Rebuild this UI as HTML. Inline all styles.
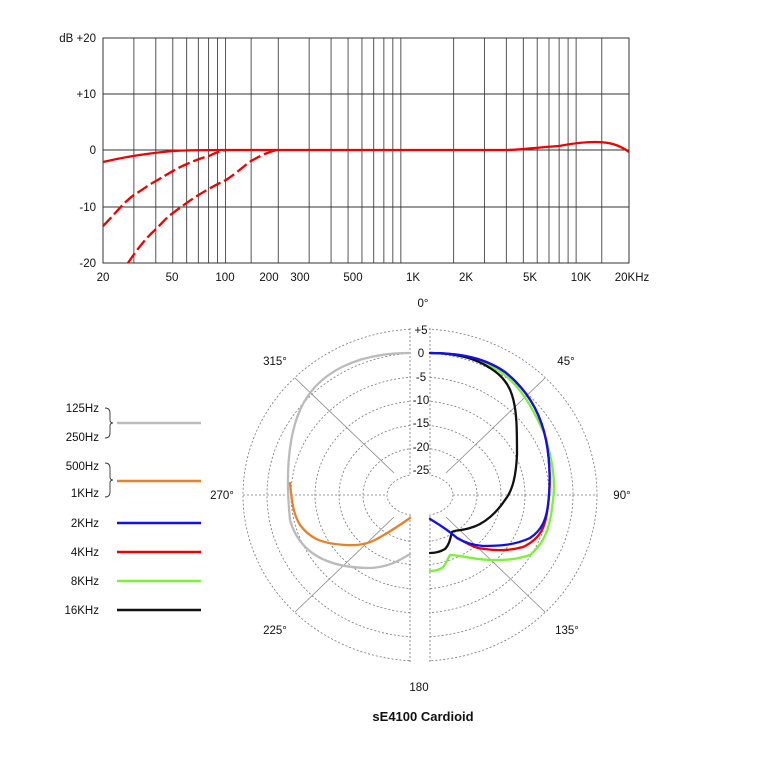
<!DOCTYPE html>
<html><head><meta charset="utf-8"><style>
html,body{margin:0;padding:0;background:#fff;width:760px;height:760px;overflow:hidden}
svg text{font-family:"Liberation Sans",sans-serif;font-size:11.5px;fill:#111}
</style></head><body>
<svg width="760" height="760" viewBox="0 0 760 760" xmlns="http://www.w3.org/2000/svg">
<g id="vgrid" stroke="#555" stroke-width="1"></g>
<g id="top" stroke="#333" stroke-width="1" fill="none">
<rect x="103" y="38" width="526" height="225"/>
<line x1="103" y1="94" x2="629" y2="94"/>
<line x1="103" y1="150" x2="629" y2="150"/>
<line x1="103" y1="207" x2="629" y2="207"/>
</g>
<g>
<text x="96" y="42" text-anchor="end">dB +20</text>
<text x="96" y="98" text-anchor="end">+10</text>
<text x="96" y="154" text-anchor="end">0</text>
<text x="96" y="211" text-anchor="end">-10</text>
<text x="96" y="267" text-anchor="end">-20</text>
<text x="103" y="281" text-anchor="middle">20</text>
<text x="172" y="281" text-anchor="middle">50</text>
<text x="225" y="281" text-anchor="middle">100</text>
<text x="269" y="281" text-anchor="middle">200</text>
<text x="300" y="281" text-anchor="middle">300</text>
<text x="353" y="281" text-anchor="middle">500</text>
<text x="413" y="281" text-anchor="middle">1K</text>
<text x="466" y="281" text-anchor="middle">2K</text>
<text x="530" y="281" text-anchor="middle">5K</text>
<text x="581" y="281" text-anchor="middle">10K</text>
<text x="632" y="281" text-anchor="middle">20KHz</text>
</g>
<g stroke="#e00" stroke-width="2.3" fill="none">
<path d="M103,162 C120,158 140,154 173,151 C190,150 200,150 226,150 L506,150 C520,150 530,148 559,146 C575,143 585,142 595,142 C608,142 618,144 629,152"/>
<path stroke-dasharray="12,4" d="M103,226 C115,214 124,202 134,195 C145,188 150,184 156,181 C168,174 177,168 187,164 C198,159 205,157 209,156 C215,153 220,151 226,150"/>
<path stroke-dasharray="12,4" d="M128,263 C138,248 146,238 156,229 C163,222 167,217 173,213 C190,200 205,190 226,180 C238,172 244,166 251,161 C262,155 270,151 278,150"/>
</g>

<g stroke="#777" stroke-width="0.8" fill="none" stroke-dasharray="2,2">
<ellipse cx="420" cy="495" rx="177" ry="166"/>
<ellipse cx="420" cy="495" rx="153" ry="142"/>
<ellipse cx="420" cy="495" rx="129" ry="118"/>
<ellipse cx="420" cy="495" rx="105" ry="94"/>
<ellipse cx="420" cy="495" rx="81" ry="70"/>
<ellipse cx="420" cy="495" rx="57" ry="47"/>
<ellipse cx="420" cy="495" rx="33" ry="21"/>
<line x1="243" y1="495" x2="387" y2="495"/>
<line x1="453" y1="495" x2="597" y2="495"/>
<line x1="410" y1="328" x2="410" y2="662"/>
<line x1="430" y1="328" x2="430" y2="662"/>
</g>
<g stroke="#888" stroke-width="0.8">
<line x1="295" y1="378" x2="394" y2="473"/>
<line x1="446" y1="517" x2="545" y2="612"/>
<line x1="545" y1="378" x2="446" y2="473"/>
<line x1="394" y1="517" x2="295" y2="612"/>
</g>
<rect x="411" y="320" width="18" height="212" fill="#fff"/>
<ellipse cx="420" cy="495" rx="32" ry="20" fill="#fff"/>
<rect x="411" y="515" width="18" height="150" fill="#fff"/>
<g text-anchor="middle">
<text x="421" y="334">+5</text>
<text x="421" y="357">0</text>
<text x="421" y="381">-5</text>
<text x="421" y="404">-10</text>
<text x="421" y="427">-15</text>
<text x="421" y="451">-20</text>
<text x="421" y="474">-25</text>
<text x="423" y="307">0°</text>
<text x="566" y="365">45°</text>
<text x="622" y="499">90°</text>
<text x="567" y="634">135°</text>
<text x="419" y="691">180</text>
<text x="275" y="634">225°</text>
<text x="222" y="499">270°</text>
<text x="275" y="365">315°</text>
</g>
<g fill="none" stroke-width="2.3" stroke-linecap="round">
<path stroke="#bbb" d="M410,353 C360,353 318,370 300,410 C287,440 286,480 290,520 C300,555 330,568 370,568 C390,567 400,560 410,554"/>
<path stroke="#e8822a" d="M290,483 C292,505 294,515 300,525 C310,538 320,542 335,544 C350,546 363,546 375,540 C390,532 400,525 410,518"/>
<path stroke="#7cf03a" d="M430,353 C460,353 485,360 505,375 C520,388 530,402 545,435 C552,460 556,480 553,500 C551,520 548,540 530,555 C515,560 505,560 490,560 C470,559 460,555 450,555 C447,560 445,567 440,569 C435,571 432,571 430,571"/>
<path stroke="#e00" d="M430,353 C460,353 485,358 505,372 C525,388 540,410 546,440 C551,465 550,490 548,505 C546,525 542,538 523,547 C505,552 490,550 478,548 C468,545 462,540 457,538"/>
<path stroke="#111" d="M430,353 C460,353 478,360 490,368 C500,374 508,382 512,395 C517,410 517,430 517,455 C516,475 513,490 505,500 C497,512 485,524 470,528 C460,531 455,530 452,532 C450,540 449,545 445,549 C440,552 435,553 430,553"/>
<path stroke="#1010ee" d="M430,353 C460,353 485,358 505,372 C525,388 540,410 546,440 C551,465 550,490 548,505 C546,520 542,530 530,538 C515,545 500,546 483,546 C470,545 462,541 457,538 C448,530 440,525 430,519"/>
</g>
<g text-anchor="end">
<text x="99" y="412">125Hz</text>
<text x="99" y="441">250Hz</text>
<text x="99" y="470">500Hz</text>
<text x="99" y="497">1KHz</text>
<text x="99" y="527">2KHz</text>
<text x="99" y="556">4KHz</text>
<text x="99" y="585">8KHz</text>
<text x="99" y="614">16KHz</text>
</g>
<g fill="none" stroke="#333" stroke-width="0.9">
<path d="M105,408 Q110,408 110,413 L110,420 Q110,423 113,423 Q110,423 110,426 L110,433 Q110,438 105,438"/>
<path d="M105,463 Q110,463 110,468 L110,477 Q110,480 113,480 Q110,480 110,483 L110,492 Q110,497 105,497"/>
</g>
<g stroke-width="2.5">
<line x1="117" y1="423" x2="201" y2="423" stroke="#bbb"/>
<line x1="117" y1="481" x2="201" y2="481" stroke="#e8822a"/>
<line x1="117" y1="523" x2="201" y2="523" stroke="#1010ee"/>
<line x1="117" y1="552" x2="201" y2="552" stroke="#e00"/>
<line x1="117" y1="581" x2="201" y2="581" stroke="#7cf03a"/>
<line x1="117" y1="610" x2="201" y2="610" stroke="#111"/>
</g>
<text x="423" y="721" text-anchor="middle" style="font-size:13px;font-weight:bold">sE4100 Cardioid</text>
</svg>
<script>
(function(){var g=document.getElementById('vgrid');var ns='http://www.w3.org/2000/svg';
var fs=[30,40,50,60,70,80,90,100,140,200,300,400,500,600,700,800,900,1000,2000,3000,4000,5000,6000,7000,8000,9000,10000,14000];
fs.forEach(function(f){var x=103+175.3*Math.log10(f/20);var l=document.createElementNS(ns,'line');
l.setAttribute('x1',x);l.setAttribute('x2',x);l.setAttribute('y1',38);l.setAttribute('y2',263);g.appendChild(l);});
})();</script>
</body></html>
